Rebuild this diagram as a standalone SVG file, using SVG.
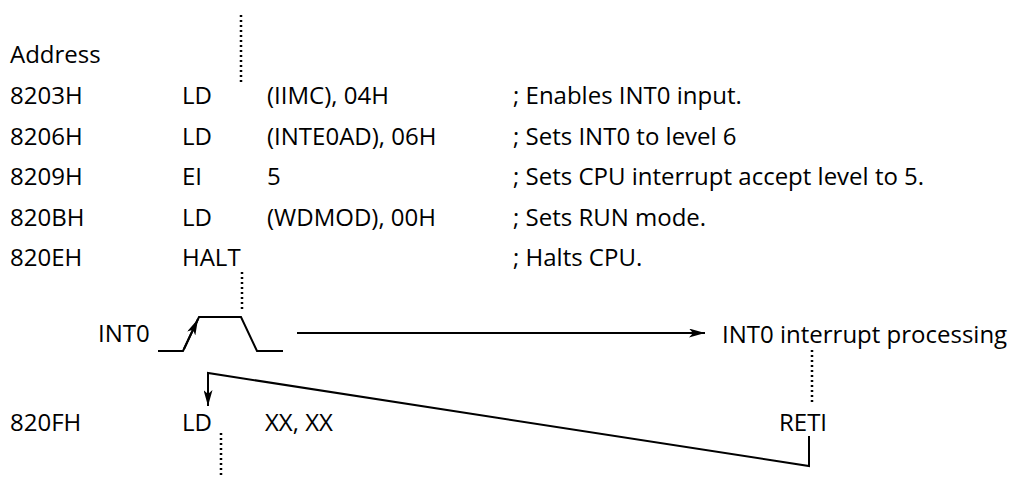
<svg xmlns="http://www.w3.org/2000/svg" width="1009" height="478" viewBox="0 0 1009 478">
<style>
text{font-family:"Open Sans","Noto Sans",sans-serif;font-size:24px;fill:#000}
.ln{stroke:#000;stroke-width:2;fill:none}
.dot{stroke:#000;stroke-width:2.5;fill:none;stroke-dasharray:2,3}
</style>
<defs>
<marker id="ah" viewBox="0 0 16 9" refX="16" refY="4.5" markerWidth="16" markerHeight="9" markerUnits="userSpaceOnUse" orient="auto">
<path d="M0,0 L16,4.5 L0,9 L4,4.5 Z" fill="#000"/>
</marker>
</defs>
<g id="listing">
<text x="10" y="63">Address</text>
<text x="10" y="104">8203H</text><text x="182" y="104">LD</text><text x="267" y="104">(IIMC), 04H</text><text x="513" y="104">; Enables INT0 input.</text>
<text x="10" y="145">8206H</text><text x="182" y="145">LD</text><text x="267" y="145">(INTE0AD), 06H</text><text x="513" y="145">; Sets INT0 to level 6</text>
<text x="10" y="185">8209H</text><text x="182" y="185">EI</text><text x="267" y="185">5</text><text x="513" y="185">; Sets CPU interrupt accept level to 5.</text>
<text x="10" y="226">820BH</text><text x="182" y="226">LD</text><text x="267" y="226">(WDMOD), 00H</text><text x="513" y="226">; Sets RUN mode.</text>
<text x="10" y="266">820EH</text><text x="182" y="266">HALT</text><text x="513" y="266">; Halts CPU.</text>
<text x="10" y="431">820FH</text><text x="182" y="431">LD</text><text x="265" y="431">XX, XX</text>
</g>
<g id="int0">
<text x="98" y="342">INT0</text>
<path class="ln" d="M158,351 H183 L199,317 H241 L257,351 H283"/>
</g>
<g id="processing">
<text x="722" y="343">INT0 interrupt processing</text>
</g>
<g id="reti">
<text x="779" y="431">RETI</text>
</g>
<g id="connectors">
<path class="dot" d="M241,15 V82"/>
<path class="dot" d="M242,272 V310"/>
<path class="dot" d="M812,350 V404"/>
<path class="dot" d="M221,433 V478"/>
<path class="ln" d="M184,349 L198,319" marker-end="url(#ah)"/>
<path class="ln" d="M297,333 H705" marker-end="url(#ah)"/>
<path class="ln" d="M809,436 V466 L208,373 V406" marker-end="url(#ah)"/>
</g>
</svg>
